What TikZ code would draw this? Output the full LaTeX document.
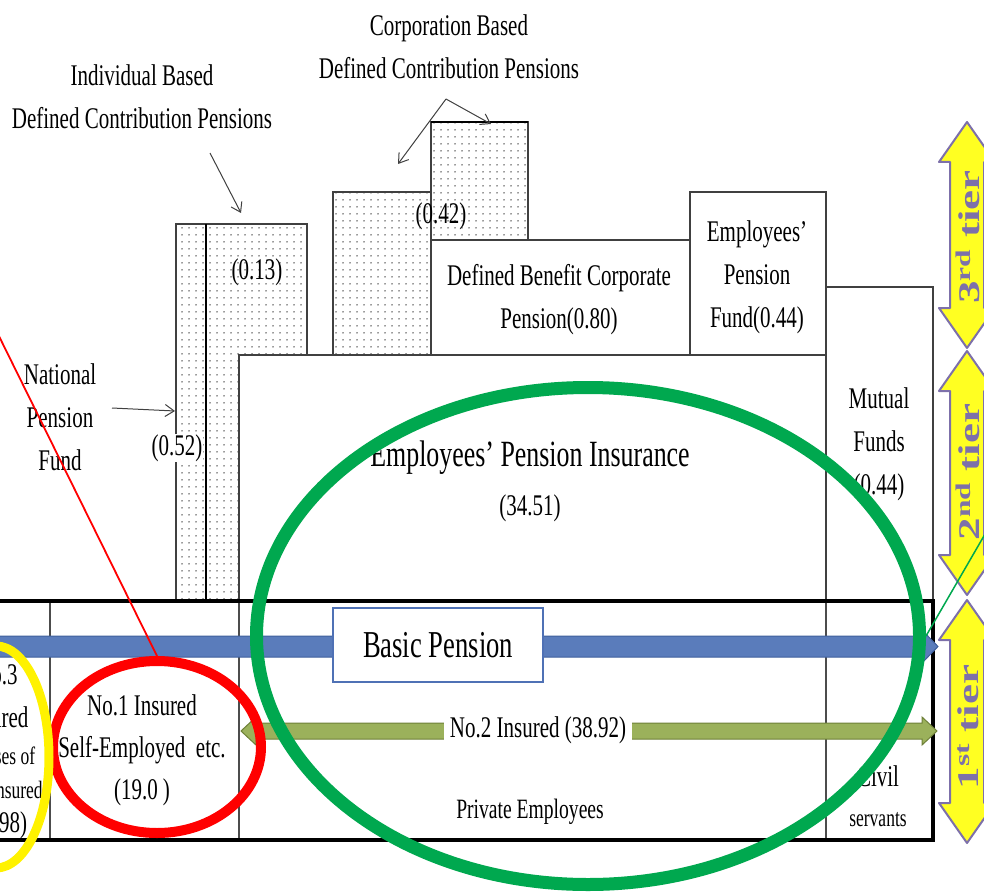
\documentclass[tikz,border=0pt]{standalone}
\usepackage{fontspec}
\setmainfont{Liberation Serif}[FakeStretch=0.7]
\newfontfamily\tierfont{Liberation Serif}[FakeStretch=1.5]
\usetikzlibrary{shapes.geometric,arrows.meta,patterns.meta}
\definecolor{bpfill}{HTML}{5A7CBB}
\definecolor{bpline}{HTML}{3F5F9C}
\definecolor{bpbox}{HTML}{4F71B5}
\definecolor{olfill}{HTML}{9BB15B}
\definecolor{olline}{HTML}{6E8038}
\definecolor{grell}{HTML}{00A84F}
\definecolor{tierpurple}{HTML}{7D70AA}
\definecolor{tieryellow}{HTML}{FFFF22}
\begin{document}
\begin{tikzpicture}[x=1pt,y=-1pt,
  txt/.style={font=\fontsize{30}{43}\selectfont, align=center, inner sep=0pt, text=black},
  smalltxt/.style={font=\fontsize{25}{32}\selectfont, align=center, inner sep=0pt, text=black},
  box/.style={draw=black!75, line width=1.2pt, fill=white},
  dotbox/.style={draw=black!75, line width=1.2pt, preaction={fill=white},
    pattern={Dots[distance=7pt, radius=0.75pt]}, pattern color=black!80},
  ann/.style={draw=black!75, line width=1pt, -{Straight Barb[length=9pt,width=12pt]}},
  divider/.style={draw=black!70, line width=1.5pt},
  tierarrow/.style={fill=tieryellow, draw=tierpurple, line width=2pt, line join=round},
  tiertext/.style={font=\tierfont\bfseries\fontsize{30}{30}\selectfont, text=tierpurple, inner sep=0pt, rotate=90},
  ring/.style={ellipse, draw, fill=none, inner sep=0pt}]
\useasboundingbox (0,0) rectangle (984,893);

% ---------- 3rd / 2nd tier boxes ----------
\draw[dotbox] (176,224) rectangle (206,600);
\draw[dotbox] (206,224) rectangle (307,600);
\draw[black, line width=1.6pt] (206,224) -- (206,600);
\draw[dotbox] (333,192) rectangle (431,355);
\draw[dotbox] (431,122) rectangle (528,240);
\draw[black, line width=2pt] (431,122) -- (528,122);
\draw[box] (431,240) rectangle (690,355);
\draw[box] (690,192) rectangle (826,355);
\draw[box] (826,287) rectangle (933,600);
\draw[box] (239,355) rectangle (826,600);

% ---------- 1st tier box ----------
\draw[black, line width=4pt] (-10,601) rectangle (933,840);
\draw[divider] (50,603) -- (50,838);
\draw[divider] (239,603) -- (239,838);
\draw[divider] (826,603) -- (826,838);

% ---------- texts upper ----------
\node[txt] (idc) at (142,97) {Individual Based\\Defined Contribution Pensions};
\node[txt] (cdc) at (449,47) {Corporation Based\\Defined Contribution Pensions};
\node[txt] (npf) at (60,417) {National\\Pension\\Fund};
\node[txt] (v013) at (257,272) {(0.13)};
\node[txt] (v042) at (441,216) {(0.42)};
\node[txt, fill=white, inner xsep=1pt] (v052) at (177,448) {(0.52)};
\node[txt] (dbc) at (559,300) {Defined Benefit Corporate\\Pension(0.80)};
\node[txt] (epf) at (757,277) {Employees’\\Pension\\Fund(0.44)};
\node[txt] (mf) at (879,444) {Mutual\\Funds\\(0.44)};
\node[txt, font=\fontsize{37}{44}\selectfont] (epi) at (530,458) {Employees’ Pension Insurance};
\node[txt] (epiv) at (530,508) {(34.51)};

% annotation arrows
\coordinate (ia1) at (210,153);
\coordinate (ia2) at (241,213);
\draw[ann] (ia1) -- (ia2);
\coordinate (apex) at (446,99);
\coordinate (ca1) at (398,164);
\coordinate (ca2) at (491,124);
\draw[ann] (apex) -- (ca1);
\draw[ann] (apex) -- (ca2);
\coordinate (na1) at (112,408);
\coordinate (na2) at (175,411);
\draw[ann] (na1) -- (na2);

% ---------- basic pension arrow ----------
\filldraw[fill=bpfill, draw=bpline, line width=1pt]
  (-10,636) -- (921,636) -- (921,629) -- (938,646.5) -- (921,664) -- (921,657) -- (-10,657) -- cycle;
\node[draw=bpbox, line width=2pt, fill=white, minimum width=210, minimum height=74,
  font=\fontsize{38}{38}\selectfont, text=black] (bp) at (438,645) {Basic Pension};

% ---------- No.2 insured arrow ----------
\filldraw[fill=olfill, draw=olline, line width=1pt]
  (241,731) -- (256,717) -- (256,723) -- (922,723) -- (922,717) -- (937,731)
  -- (922,745) -- (922,739) -- (256,739) -- (256,745) -- cycle;
\node[txt, fill=white, inner xsep=6pt, inner ysep=3pt] (no2) at (538,730) {No.2 Insured (38.92)};

% ---------- lower texts ----------
\node[txt, font=\fontsize{30}{42}\selectfont] (no1) at (142,750) {No.1 Insured\\Self-Employed\ \ etc.\\(19.0 )};
\node[txt] (l1) at (-3,675) {No.3};
\node[txt] (l2) at (-3,717) {Insured};
\node[smalltxt] (l3) at (-3,758) {Spouses of};
\node[smalltxt] (l4) at (-3,790) {No.2 Insured};
\node[txt] (l5) at (-3,825) {(11.98)};
\node[txt, font=\fontsize{28}{34}\selectfont] (pe) at (530,812) {Private Employees};
\node[txt] (civ) at (878,776) {Civil};
\node[smalltxt] (serv) at (878,820) {servants};

% ---------- tier arrows ----------
\foreach \tp/\bt in {122/348, 351/595, 600/843}{
  \filldraw[tierarrow] (967,\tp) -- (995,{\tp+40}) -- (984,{\tp+40}) -- (984,{\bt-40})
    -- (995,{\bt-40}) -- (967,\bt) -- (939,{\bt-40}) -- (950,{\bt-40})
    -- (950,{\tp+40}) -- (939,{\tp+40}) -- cycle;
}
\node[tiertext] (t3) at (968,237) {3\textsuperscript{rd} tier};
\node[tiertext] (t2) at (968,472) {2\textsuperscript{nd} tier};
\node[tiertext] (t1) at (968,727) {1\textsuperscript{st} tier};

% ---------- highlight rings ----------
\node[ring, draw=grell, line width=13pt, minimum width=663, minimum height=497] (gring) at (588,636) {};
\node[ring, draw=red, line width=10pt, minimum width=208, minimum height=172] (rring) at (157,747) {};
\node[ring, draw=yellow, line width=9pt, minimum width=106, minimum height=222] (yring) at (-4,757) {};
\coordinate (rl) at (-8,322);
\draw[red, line width=1.8pt] (rl) -- (rring.north);
\coordinate (gl) at (992,522);
\draw[grell, line width=1.5pt] (gring.east) -- (gl);
\end{tikzpicture}
\end{document}
